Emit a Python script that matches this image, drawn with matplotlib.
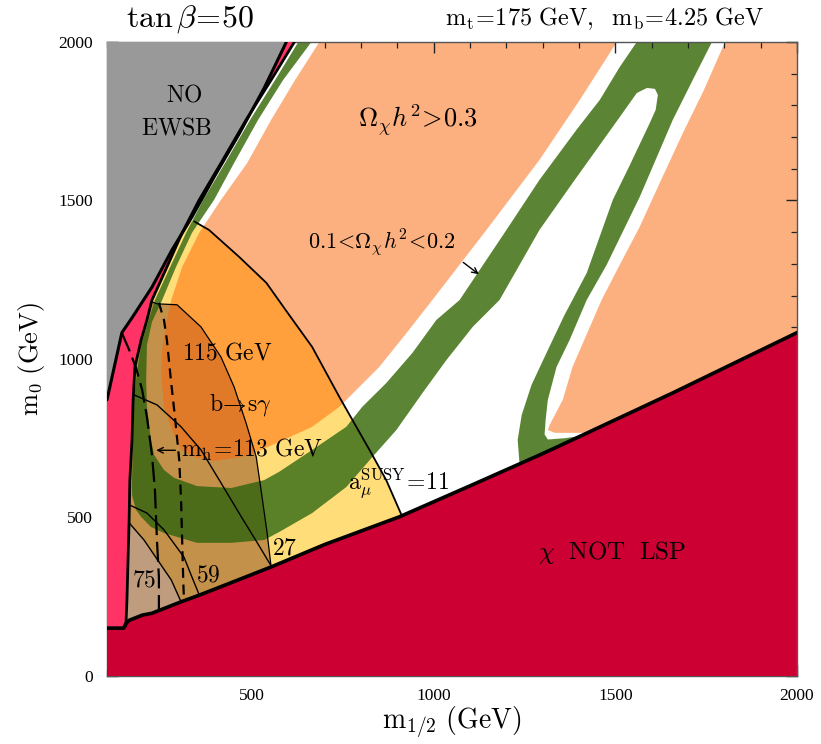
import matplotlib
matplotlib.use("Agg")
import matplotlib.pyplot as plt
from matplotlib.patches import Polygon
from matplotlib.ticker import MultipleLocator

plt.rcParams['mathtext.fontset'] = 'cm'

# boundaries in the (m_1/2, m_0) plane, GeV
stau = [(100,151),(146,151),(152,165),(160,175),(197,192),(224,198),(304,234),(354,255),(450,298),
        (552,344),(700,415),(905,502),(1100,600),(1291,697),(1350,728),(1421,766),(1658,893),(2000,1083)]
ewsb = [(100,871),(141,1083),(169,1130),(224,1227),(279,1344),(334,1448),(395,1574),(464,1710),
        (533,1855),(594,2000)]
inner = [(152,158),(155,240),(158,366),(161,492),(163,618),(169,745),(172,871),(177,975),(194,1060),
         (210,1123),(224,1186),(265,1290),(307,1398),(354,1502),(414,1618),(483,1754),(552,1880),(616,2000)]

# 0.1 < Omega h^2 < 0.2 band
green_band = [(627,2000),(563,1880),(494,1754),(425,1618),(365,1502),(318,1398),(274,1290),(232,1186),
              (213,1117),(194,1044),(183,965),(174,871),(172,745),(169,618),(169,571),
              (180,524),(194,502),(221,470),(257,451),(348,420),(442,420),(533,429),(574,454),(665,514),
              (759,596),(831,691),(897,776),(969,893),(1035,997),(1107,1101),(1181,1186),(1291,1407),
              (1382,1555),(1457,1675),(1520,1776),(1559,1839),(1587,1855),(1609,1852),(1617,1833),
              (1611,1786),(1595,1745),(1540,1612),(1493,1502),(1421,1271),(1360,1139),(1314,1028),
              (1269,918),(1242,823),(1231,745),(1236,670),
              (1291,697),(1350,728),(1405,757),
              (1360,750),(1314,746),(1305,762),(1308,808),(1314,871),(1338,975),(1374,1060),(1421,1186),
              (1476,1297),(1567,1511),(1658,1754),(1713,1880),(1766,2000),
              (1559,2000),(1512,1921),(1457,1817),(1393,1723),(1291,1565),(1200,1407),(1071,1186),
              (1007,1123),(941,1019),(869,924),(803,849),(759,786),(665,713),(574,644),(533,618),
              (442,593),(348,599),(285,625),(257,650),(230,697),(221,745),(210,849),
              (208,934),(210,1044),(224,1117),(252,1186),(290,1290),(334,1398),(395,1502),(450,1618),
              (516,1754),(585,1880),(663,2000)]

# Omega h^2 > 0.3
salmon_left = [(685,2000),(618,1880),(552,1754),(486,1618),(414,1502),(354,1398),(307,1290),(277,1186),
               (263,1114),(252,1028),(249,956),(257,849),(279,776),(304,713),(348,688),(395,678),
               (486,694),(574,738),(665,786),(740,849),(850,975),(925,1082),(996,1186),(1145,1407),
               (1291,1628),(1402,1817),(1504,2000)]
salmon_right = [(1802,2000),(1744,1849),(1686,1713),(1622,1555),(1567,1417),(1512,1297),(1462,1186),
                (1382,975),(1355,871),(1319,792),(1314,776),(1333,767),(1410,767),(1425,768),
                (1658,893),(2000,1083),(2000,2000)]

# a_mu contours, b -> s gamma edge, Higgs mass lines
amu11 = [(340,1434),(381,1407),(464,1322),(539,1240),(596,1148),(665,1038),(740,880),(823,713),
         (869,618),(911,508)]
amu27 = [(174,887),(238,855),(304,786),(359,713),(414,609),(470,502),(514,420),(547,357),(553,346)]
amu59 = [(161,540),(210,514),(257,461),(312,375),(334,312),(354,256)]
amu75 = [(161,483),(202,429),(243,360),(277,303),(304,234)]
bsg = [(224,1180),(238,1174),(293,1171),(359,1101),(414,1006),(450,912),(483,798),(511,691),
       (527,565),(541,451),(552,344)]
mh113 = [(141,1082),(161,1029),(180,972),(197,902),(210,817),(224,697),(232,587),(238,420),
         (243,312),(243,207)]
mh115 = [(243,1177),(257,1123),(265,1060),(276,934),(288,808),(299,681),(304,555),(307,429),
         (310,303),(312,238)]

# shaded overlap regions
g2_only = [(326,1439)] + amu11[1:] + [(905,502),(700,415),(552,344)] + bsg[::-1][1:] + \
          [(224,1186),(265,1290),(307,1398)]
g2_bsg = [(224,1186),(210,1123),(194,1060),(177,975),(172,871),(169,745),(163,618),(161,492)] + \
         amu75 + [(354,255),(450,298)] + bsg[::-1]
bsg_only = [(161,483),(158,366),(155,240),(152,160),(160,175),(197,192),(224,198),(304,234),
            (277,303),(243,360),(202,429)]

SALMON, GREEN = '#FDB07F', '#5B8534'
shades = [
    (g2_only, '#FFDD78', '#FFA03C', '#5A8028'),
    (g2_bsg, '#C4914A', '#E07A28', '#4C6C1A'),
    (bsg_only, '#C09C7E', None, None),
]

fig = plt.figure(figsize=(8.21, 7.44), dpi=100)
ax = fig.add_axes([0.1303, 0.0914, 0.8404, 0.8522])
ax.set_xlim(100, 2000)
ax.set_ylim(0, 2000)

def poly(pts, color, z, **kw):
    p = Polygon(pts, closed=True, facecolor=color, edgecolor='none', zorder=z, **kw)
    ax.add_patch(p)
    return p

poly(salmon_left, SALMON, 1)
poly(salmon_right, SALMON, 1)
poly(green_band, GREEN, 1.5)

for region, c_white, c_salmon, c_green in shades:
    reg = poly(region, c_white, 2)
    if c_salmon:
        for pts in (salmon_left, salmon_right):
            poly(pts, c_salmon, 2.1).set_clip_path(reg)
        poly(green_band, c_green, 2.2).set_clip_path(reg)

# no EWSB, pink strip, stau LSP
poly([(100, 2000)] + ewsb, '#999999', 3)
poly([(100, 151)] + ewsb + inner[::-1] + [(146, 151)], '#FF3366', 3)
poly(stau + [(2000, 0), (100, 0)], '#CC0033', 3)

def line(pts, **kw):
    xs, ys = zip(*pts)
    ax.plot(xs, ys, color='black', zorder=5, solid_capstyle='round', **kw)

line(stau, lw=2.6)
line(ewsb, lw=2.2)
line(inner, lw=2.0)
line(amu11, lw=1.3)
line(bsg, lw=0.9)
line(amu27, lw=1.0)
line(amu59, lw=1.0)
line(amu75, lw=1.0)
line(mh113, lw=1.6, dashes=(9, 3))
line(mh115, lw=1.6, dashes=(4.5, 3))

# labels inside the plane
kw = dict(ha='center', va='center', zorder=6, color='black')
ax.text(312, 1833, r'$\mathrm{NO}$', fontsize=17, **kw)
ax.text(290, 1729, r'$\mathrm{EWSB}$', fontsize=17, **kw)
ax.text(955, 1754, r'$\Omega_\chi h^2\!>\!0.3$', fontsize=19, **kw)
ax.text(856, 1366, r'$0.1\!<\!\Omega_\chi h^2\!<\!0.2$', fontsize=16, **kw)
ax.annotate('', xy=(1130, 1262), xytext=(1075, 1310), zorder=6,
            arrowprops=dict(arrowstyle='->', color='black', lw=1.0))
ax.text(431, 1019, r'$\mathrm{115\ GeV}$', fontsize=17, **kw)
ax.text(467, 855, r'$\mathrm{b}\!\rightarrow\!\mathrm{s}\gamma$', fontsize=17, **kw)
ax.annotate('', xy=(228, 712), xytext=(296, 712), zorder=6,
            arrowprops=dict(arrowstyle='->', color='black', lw=1.0))
ax.text(305, 712, r'$\mathrm{m_h\!=\!113\ GeV}$', fontsize=17, ha='left', va='center', zorder=6)
ax.text(765, 605, r'$\mathrm{a}_\mu^{\mathrm{SUSY}}\!=\!11$', fontsize=17, ha='left', va='center',
        zorder=6)
ax.text(588, 404, r'$27$', fontsize=17, **kw)
ax.text(379, 319, r'$59$', fontsize=17, **kw)
ax.text(202, 303, r'$75$', fontsize=17, **kw)
ax.text(1490, 391, r'$\chi\ \ \mathrm{NOT\ \ LSP}$', fontsize=18, **kw)

fig.text(190/821, 1-19/744, r'$\tan\beta\!=\!50$', fontsize=23, ha='center', va='center')
fig.text(605/821, 1-19/744, r'$\mathrm{m_t\!=\!175\ GeV,\ \ m_b\!=\!4.25\ GeV}$', fontsize=17.5,
         ha='center', va='center')

ax.set_xlabel(r'$\mathrm{m_{1/2}\ (GeV)}$', fontsize=20, labelpad=0)
ax.set_ylabel(r'$\mathrm{m_0\ (GeV)}$', fontsize=19, labelpad=8)

ax.set_xticks([500, 1000, 1500, 2000])
ax.set_yticks([0, 500, 1000, 1500, 2000])
ax.xaxis.set_minor_locator(MultipleLocator(100))
ax.yaxis.set_minor_locator(MultipleLocator(100))
ax.tick_params(which='both', direction='in', top=True, right=True, color='#222222')
ax.tick_params(which='major', length=8, width=1.0)
ax.tick_params(which='minor', length=4.5, width=0.9)
ax.tick_params(axis='x', pad=9)
ax.tick_params(axis='y', pad=10)
for lab in ax.get_xticklabels() + ax.get_yticklabels():
    lab.set_fontfamily('Liberation Serif')
    lab.set_fontsize(12.5)
for s in ax.spines.values():
    s.set_color('#555555')
    s.set_linewidth(1.0)

fig.savefig('out.png', dpi=100)
